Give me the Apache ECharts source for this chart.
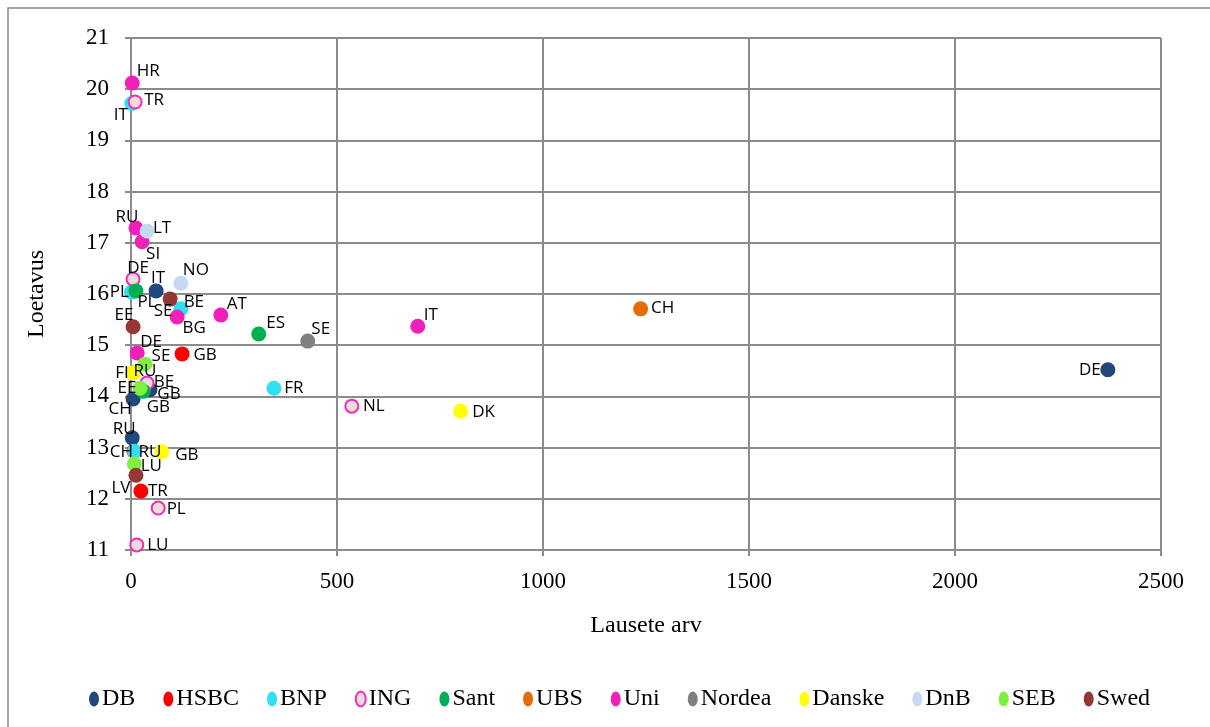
<!DOCTYPE html>
<html>
<head>
<meta charset="utf-8">
<script src="https://cdn.jsdelivr.net/npm/echarts@6/dist/echarts.min.js"></script>
<style>
  html, body { margin: 0; padding: 0; background: #fff; }
  #chart { width: 1210px; height: 727px; }
</style>
</head>
<body>
<div id="chart"></div>
<script>
// Banks shown in the legend, in drawing order
const banks = ['DB', 'HSBC', 'BNP', 'ING', 'Sant', 'UBS', 'Uni', 'Nordea', 'Danske', 'DnB', 'SEB', 'Swed'];

// Per-bank country codes, "Lausete arv" (x) and "Loetavus" (y)
const dbCountries = ['DE', 'IT', 'CH', 'RU', 'GB'];
const dbX = [2371, 61, 5, 3, 46];
const dbY = [14.52, 16.06, 13.95, 13.19, 14.13];

const hsbcCountries = ['GB', 'TR', 'RU'];
const hsbcX = [124, 24, 7];
const hsbcY = [14.83, 12.15, 12.93];

const bnpCountries = ['IT', 'PL', 'BE', 'FR', 'CH'];
const bnpX = [2, 1, 121, 347, 8];
const bnpY = [19.72, 16.04, 15.71, 14.16, 12.93];

const ingCountries = ['TR', 'DE', 'BE', 'NL', 'PL', 'LU'];
const ingX = [10, 5, 39, 536, 66, 14];
const ingY = [19.75, 16.29, 14.26, 13.81, 11.82, 11.10];

const santCountries = ['PL', 'ES', 'GB'];
const santX = [12, 310, 30];
const santY = [16.06, 15.22, 14.10];

const ubsCountries = ['CH'];
const ubsX = [1237];
const ubsY = [15.71];

const uniCountries = ['HR', 'RU', 'SI', 'BG', 'AT', 'IT', 'DE'];
const uniX = [3, 12, 27, 112, 218, 696, 15];
const uniY = [20.12, 17.29, 17.02, 15.55, 15.59, 15.37, 14.85];

const nordeaCountries = ['SE', 'RU'];
const nordeaX = [429, 5];
const nordeaY = [15.08, 14.46];

const danskeCountries = ['FI', 'DK', 'GB'];
const danskeX = [5, 800, 75];
const danskeY = [14.46, 13.71, 12.92];

const dnbCountries = ['LT', 'NO'];
const dnbX = [39, 121];
const dnbY = [17.23, 16.21];

const sebCountries = ['SE', 'EE', 'LU'];
const sebX = [34, 22, 8];
const sebY = [14.63, 14.16, 12.68];

const swedCountries = ['SE', 'EE', 'LV'];
const swedX = [95, 5, 12];
const swedY = [15.90, 15.36, 12.46];

const xTicks = { min: 0, max: 2500, step: 500 };
const yTicks = { min: 11, max: 21, step: 1 };

// Series styling
const bankColors = {
  DB: '#1F497D', HSBC: '#FF0000', BNP: '#2EE0F2', ING: '#F2DCDB', Sant: '#00B050',
  UBS: '#E36C09', Uni: '#F020B8', Nordea: '#808080', Danske: '#FFFF00', DnB: '#C6D9F1',
  SEB: '#7FF040', Swed: '#953735'
};

// Where each country label sits relative to its marker (pixel shift of label centre)
const labelShift = {
  'DB:DE': [-18, 0], 'DB:IT': [2, -13], 'DB:CH': [-13, 10], 'DB:RU': [-8, -9], 'DB:GB': [19, 4],
  'HSBC:GB': [23, 1], 'HSBC:TR': [17, 0], 'HSBC:RU': [16, 1],
  'BNP:IT': [-11, 12], 'BNP:PL': [-12, 0], 'BNP:BE': [13, -7], 'BNP:FR': [20, 0], 'BNP:CH': [-13, 1],
  'ING:TR': [19, -2], 'ING:DE': [5, -11], 'ING:BE': [17, -1], 'ING:NL': [22, 0], 'ING:PL': [18, 1], 'ING:LU': [21, 0],
  'Sant:PL': [11, 11], 'Sant:ES': [17, -11], 'Sant:GB': [15, 16],
  'UBS:CH': [22, -1],
  'Uni:HR': [16, -12], 'Uni:RU': [-9, -11], 'Uni:SI': [11, 12], 'Uni:BG': [17, 11], 'Uni:AT': [16, -11],
  'Uni:IT': [13, -11], 'Uni:DE': [14, -11],
  'Nordea:SE': [13, -12], 'Nordea:RU': [12, -2],
  'Danske:FI': [-11, 0], 'Danske:DK': [23, 1], 'Danske:GB': [25, 3],
  'DnB:LT': [15, -3], 'DnB:NO': [15, -13],
  'SEB:SE': [16, -8], 'SEB:EE': [-13, 0], 'SEB:LU': [17, 2],
  'Swed:SE': [-7, 12], 'Swed:EE': [-9, -12], 'Swed:LV': [-15, 13]
};

const bankData = {
  DB: [dbCountries, dbX, dbY], HSBC: [hsbcCountries, hsbcX, hsbcY], BNP: [bnpCountries, bnpX, bnpY],
  ING: [ingCountries, ingX, ingY], Sant: [santCountries, santX, santY], UBS: [ubsCountries, ubsX, ubsY],
  Uni: [uniCountries, uniX, uniY], Nordea: [nordeaCountries, nordeaX, nordeaY],
  Danske: [danskeCountries, danskeX, danskeY], DnB: [dnbCountries, dnbX, dnbY],
  SEB: [sebCountries, sebX, sebY], Swed: [swedCountries, swedX, swedY]
};

const serif = '"Liberation Serif", "DejaVu Serif", serif';
const sans = '"Open Sans", "Liberation Sans", sans-serif';
const ellipse = 'path://M0,-1A1,1 0 1,1 0,1A1,1 0 1,1 0,-1Z';

const series = banks.map(bank => {
  const [names, xs, ys] = bankData[bank];
  const hollow = bank === 'ING';
  return {
    name: bank,
    type: 'scatter',
    symbol: 'circle',
    symbolSize: hollow ? 13 : 15,
    itemStyle: hollow
      ? { color: bankColors[bank], borderColor: '#F02CB8', borderWidth: 2, opacity: 1 }
      : { color: bankColors[bank], opacity: 1 },
    label: {
      show: true,
      position: 'inside',
      formatter: p => p.name,
      color: '#000',
      fontFamily: sans,
      fontSize: 17
    },
    emphasis: { disabled: true },
    data: names.map((c, i) => ({
      name: c,
      value: [xs[i], ys[i]],
      label: { offset: labelShift[bank + ':' + c] || [18, 0] }
    }))
  };
});

const gridColor = '#8C8C8C';

const chart = echarts.init(document.getElementById('chart'), null, { renderer: 'canvas' });
chart.setOption({
  animation: false,
  backgroundColor: '#fff',
  graphic: [{
    type: 'rect',
    shape: { x: 8, y: 8, width: 1220, height: 740 },
    style: { fill: 'none', stroke: '#898989', lineWidth: 1.5 },
    silent: true,
    z: -10
  }],
  grid: { left: 131, right: 49, top: 38, bottom: 177, containLabel: false },
  xAxis: {
    type: 'value',
    min: xTicks.min, max: xTicks.max, interval: xTicks.step,
    name: 'Lausete arv',
    nameLocation: 'middle',
    nameGap: 64,
    nameTextStyle: { fontFamily: serif, fontSize: 24, color: '#000' },
    axisLine: { show: true, lineStyle: { color: gridColor, width: 2 } },
    axisTick: { show: true, length: 6, lineStyle: { color: gridColor, width: 2 } },
    axisLabel: { fontFamily: serif, fontSize: 23, color: '#000', margin: 20, formatter: v => String(v) },
    splitLine: { show: true, lineStyle: { color: gridColor, width: 2 } }
  },
  yAxis: {
    type: 'value',
    min: yTicks.min, max: yTicks.max, interval: yTicks.step,
    name: 'Loetavus',
    nameLocation: 'middle',
    nameRotate: 90,
    nameGap: 82,
    nameTextStyle: { fontFamily: serif, fontSize: 24, color: '#000' },
    axisLine: { show: true, lineStyle: { color: gridColor, width: 2 } },
    axisTick: { show: true, length: 6, lineStyle: { color: gridColor, width: 2 } },
    axisLabel: { fontFamily: serif, fontSize: 23, color: '#000', margin: 22 },
    splitLine: { show: true, lineStyle: { color: gridColor, width: 2 } }
  },
  legend: {
    data: banks,
    left: 84,
    top: 682,
    itemWidth: 10,
    itemHeight: 15,
    itemGap: 28,
    icon: ellipse,
    symbolKeepAspect: false,
    textStyle: { fontFamily: serif, fontSize: 24, color: '#000', padding: [0, 0, 0, -2] },
    selectedMode: false
  },
  series: series
});
</script>
</body>
</html>
